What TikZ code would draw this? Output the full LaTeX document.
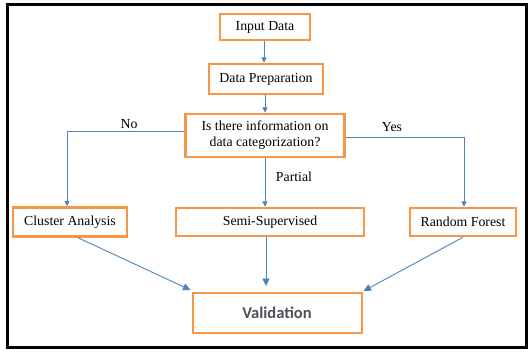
\documentclass[tikz,border=0pt]{standalone}
\usepackage{fontspec}
\setmainfont{Liberation Serif}
\newfontfamily\calib{Carlito}
\usetikzlibrary{arrows.meta,calc}
\definecolor{boxorange}{RGB}{247,150,70}
\definecolor{arrowblue}{RGB}{79,129,189}
\definecolor{valgray}{RGB}{80,80,90}
\begin{document}
\begin{tikzpicture}[x=1pt,y=-1pt,
  box/.style={draw=boxorange,line width=2.5pt,fill=white,inner sep=0pt,align=center,
    font=\fontsize{13.8}{16}\selectfont},
  arr/.style={draw=arrowblue,line width=0.9pt,-{Triangle[length=5.5pt,width=5pt]}},
  arrbig/.style={draw=arrowblue,line width=0.9pt,-{Triangle[length=7.5pt,width=7pt]}},
  lbl/.style={font=\fontsize{13.8}{16}\selectfont,inner sep=0pt}]
\useasboundingbox (0,0) rectangle (529,351);
\draw[line width=3pt,black] (7,4) rectangle (526,347);
\node[box,minimum width=90pt,minimum height=26pt] (in) at (265,27) {Input Data};
\node[box,minimum width=114pt,minimum height=30pt] (prep) at (266,79) {Data Preparation};
\node[box,minimum width=159pt,minimum height=43pt] (q) at (265,135.5) {Is there information on\\data categorization?};
\node[box,minimum width=114pt,minimum height=29pt] (ca) at (70,222) {Cluster Analysis};
\node[box,minimum width=188pt,minimum height=28pt] (ss) at (270,222) {Semi-Supervised};
\node[box,minimum width=106pt,minimum height=28pt] (rf) at (463,222) {Random Forest};
\node[box,line width=2pt,minimum width=169pt,minimum height=40pt,
  font=\calib\bfseries\fontsize{16.5}{19}\selectfont,text=valgray] (val) at (277,313) {Validation};
\node[lbl] (no) at (129,124) {No};
\node[lbl] (yes) at (392,127) {Yes};
\node[lbl] (partial) at (294,177) {Partial};
\draw[arr] ([xshift=-1pt]in.south) -- ([xshift=-2pt]prep.north);
\draw[arr] ([xshift=-1pt]prep.south) -- ([xshift=0pt]q.north);
\draw[arr] ([yshift=4.5pt]q.west) -| ([xshift=-3pt]ca.north);
\draw[arr] ([yshift=-1.5pt]q.east) -| ([xshift=1pt]rf.north);
\draw[arr] (q.south) -- (q.south |- ss.north);
\coordinate (caout) at ([xshift=8pt]ca.south);
\coordinate (ssout) at ([xshift=-4pt]ss.south);
\draw[arrbig] (caout) -- ([xshift=-1pt,yshift=2pt]val.north west);
\draw[arrbig, shorten >=6pt] (ssout) -- (ssout |- val.north);
\draw[arrbig] (rf.south) -- ([xshift=1pt,yshift=1pt]val.north east);
\end{tikzpicture}
\end{document}
